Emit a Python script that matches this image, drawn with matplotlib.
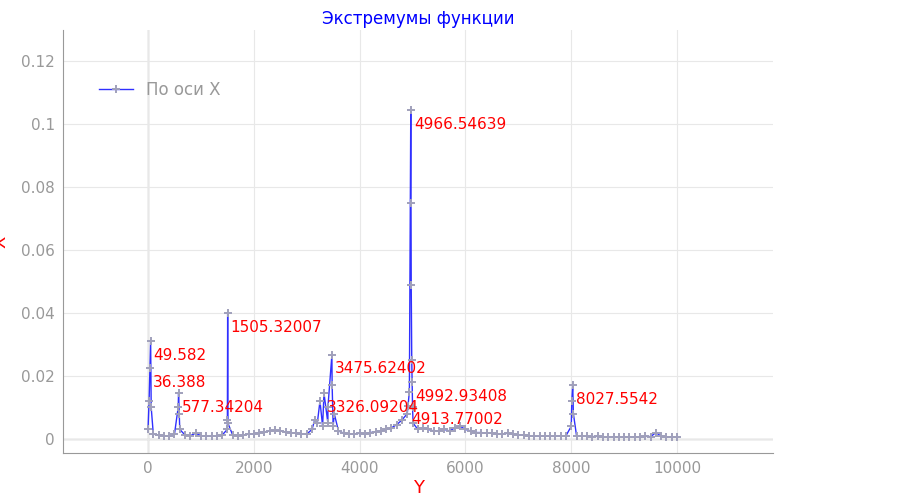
import matplotlib
matplotlib.use("Agg")
import matplotlib.pyplot as plt

base_x = list(range(0, 10001, 100))
base_y = [3,1.5,1.2,1,0.8,1.5,3,1.2,1,1.8,1,0.8,0.8,0.9,1.2,3,1.2,1,1.2,1.5,1.5,2,2.2,2.5,2.8,2.5,2.2,2,1.8,1.5,
          1.5,3,5,4,5,4,2.5,1.8,1.5,1.5,1.8,1.5,2,2.2,2.5,3,3.5,4.5,6,8,10,3,3.5,3,2.5,2.5,3,2.5,3.5,4,
          3,2.5,2,2,1.8,1.8,1.5,1.5,1.8,1.5,1.2,1.2,1,0.8,0.8,1,0.8,0.8,1,1,4,1,0.8,0.8,0.7,0.8,0.7,0.6,0.7,0.6,
          0.6,0.7,0.6,0.6,0.8,0.7,2,0.8,0.6,0.6,0.5]
base_y = [v / 1000 for v in base_y]

peak_x = [20, 36.388, 49.582, 60, 570, 577.34204, 590, 1500, 1505.32007, 1510,
          3150, 3250, 3326.09204, 3400, 3475.62402, 3480, 3520, 4913.77002, 4940,
          4966.54639, 4970, 4975, 4985, 4992.93408, 5010, 8010, 8027.5542, 8040]
peak_y = [0.012, 0.0225, 0.031, 0.01, 0.01, 0.0145, 0.008, 0.006, 0.040, 0.005,
          0.006, 0.012, 0.0145, 0.01, 0.0267, 0.017, 0.008, 0.0105, 0.015,
          0.1045, 0.075, 0.049, 0.025, 0.018, 0.005, 0.012, 0.017, 0.008]

label_x = [49.582, 36.388, 577.34204, 1505.32007, 3475.62402, 3326.09204,
           4966.54639, 4992.93408, 4913.77002, 8027.5542]
label_y = [0.031, 0.0225, 0.0145, 0.040, 0.0267, 0.0145, 0.1045, 0.018, 0.0105, 0.017]
label_text = ["49.582", "36.388", "577.34204", "1505.32007", "3475.62402", "3326.09204",
              "4966.54639", "4992.93408", "4913.77002", "8027.5542"]

pts = sorted(zip(base_x + peak_x, base_y + peak_y))
xs = [p[0] for p in pts]
ys = [p[1] for p in pts]

fig = plt.figure(figsize=(9, 5), dpi=100)
ax = fig.add_axes([0.07, 0.094, 0.789, 0.846])
ax.plot(xs, ys, color="#3030ff", lw=1, marker="+", ms=6, mec="#a0a0bb", mew=1.4,
        label="По оси X")
for x, y, t in zip(label_x, label_y, label_text):
    ax.annotate(t, (x, y), xytext=(3, -14), textcoords="offset pixels",
                color="red", fontsize=11, va="center", ha="left")
ax.axhline(0, color="#bbbbbb", lw=1, zorder=0)
ax.axvline(0, color="#bbbbbb", lw=1, zorder=0)
ax.set_xlim(-1607, 11815)
ax.set_ylim(-0.0045, 0.130)
ax.set_xticks([0, 2000, 4000, 6000, 8000, 10000])
ax.set_yticks([0, 0.02, 0.04, 0.06, 0.08, 0.1, 0.12])
ax.set_yticklabels(["0", "0.02", "0.04", "0.06", "0.08", "0.1", "0.12"])
ax.grid(True, color="#e8e8e8", lw=0.8)
ax.set_axisbelow(True)
for s in ["top", "right"]:
    ax.spines[s].set_visible(False)
for s in ["left", "bottom"]:
    ax.spines[s].set_color("#999999")
ax.tick_params(colors="#999999", labelcolor="#999999", labelsize=11, length=0, pad=6)
ax.set_title("Экстремумы функции", color="blue", fontsize=12, pad=4)
ax.set_xlabel("Y", color="red", fontsize=13, labelpad=2)
ax.set_ylabel("X", color="red", fontsize=13)
ax.yaxis.set_label_coords(-0.075, 0.5)
leg = ax.legend(loc="upper left", bbox_to_anchor=(0.03, 0.915), frameon=False, fontsize=12)
for t in leg.get_texts():
    t.set_color("#999999")
fig.savefig("out.png", dpi=100)
